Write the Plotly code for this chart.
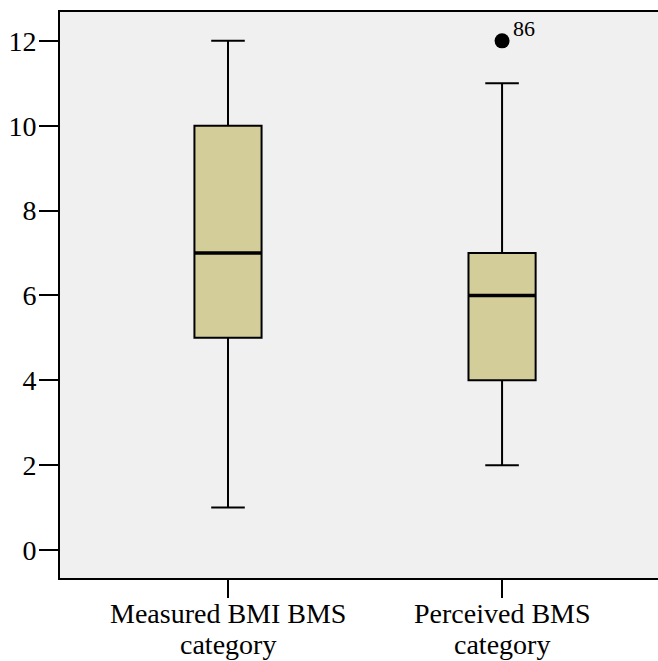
import plotly.graph_objects as go

categories = ["Measured BMI BMS<br>category", "Perceived BMS<br>category"]
positions = [0, 1]
lower_whisker = [1, 2]
q1 = [5, 4]
median = [7, 6]
q3 = [10, 7]
upper_whisker = [12, 11]
outlier_pos = [1]
outlier_val = [12]
outlier_label = ["86"]

box_width = 0.245
fill = "#D3CE99"
font_family = "Liberation Serif, Times New Roman, serif"
label_size = 28
line_gap = 31

fig = go.Figure()
fig.add_trace(go.Box(
    x=positions, q1=q1, median=median, q3=q3,
    lowerfence=lower_whisker, upperfence=upper_whisker,
    width=box_width, whiskerwidth=0.5,
    fillcolor=fill, line=dict(color="black", width=2),
    boxpoints=False, showlegend=False, hoverinfo="skip",
))
fig.add_trace(go.Scatter(
    x=outlier_pos, y=outlier_val, mode="markers",
    marker=dict(color="black", size=15),
    showlegend=False, hoverinfo="skip",
))
for p, v, lab in zip(outlier_pos, outlier_val, outlier_label):
    fig.add_annotation(x=p, y=v, xref="x", yref="y", text=lab, showarrow=False,
                       xanchor="left", yanchor="middle", xshift=9, yshift=12,
                       font=dict(family=font_family, size=22, color="black"))
for p, m in zip(positions, median):
    fig.add_shape(type="line", x0=p - box_width / 2, x1=p + box_width / 2,
                  y0=m, y1=m, xref="x", yref="y",
                  line=dict(color="black", width=3.5))

for p, cat in zip(positions, categories):
    for i, line in enumerate(cat.split("<br>")):
        fig.add_annotation(x=p, xref="x", y=0, yref="paper", yanchor="top",
                           yshift=-19 - i * line_gap, text=line, showarrow=False,
                           borderpad=0,
                           font=dict(family=font_family, size=label_size, color="black"))

fig.update_layout(
    width=658, height=661,
    margin=dict(l=60, r=0, t=12, b=83),
    paper_bgcolor="white", plot_bgcolor="#F0F0F0",
    font=dict(family=font_family, color="black"),
    xaxis=dict(range=[-0.613, 1.569], tickvals=positions, ticktext=["", ""],
               showline=True, linecolor="black", linewidth=2, mirror=True,
               ticks="outside", ticklen=18, tickwidth=2, tickcolor="black",
               showgrid=False, zeroline=False, automargin=False),
    yaxis=dict(range=[-0.66, 12.68], tickvals=[0, 2, 4, 6, 8, 10, 12],
               showline=True, linecolor="black", linewidth=2,
               ticks="outside", ticklen=19, tickwidth=2, tickcolor="black",
               showgrid=False, zeroline=False, automargin=False,
               ticklabelstandoff=-3, tickfont=dict(size=28)),
)
fig.write_html("out.html")
